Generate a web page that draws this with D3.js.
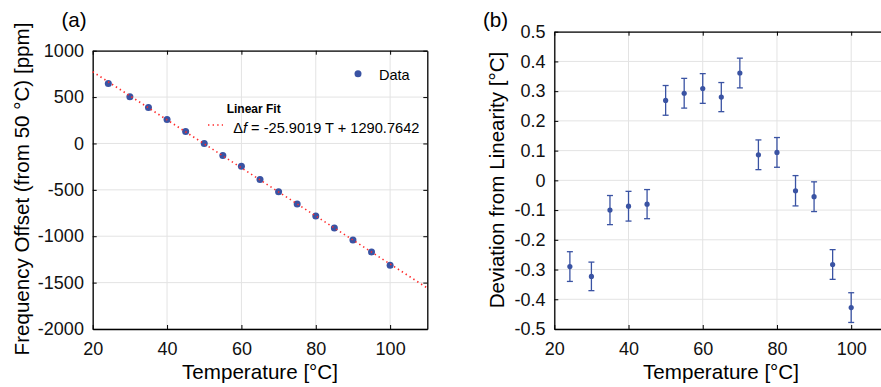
<!DOCTYPE html>
<html>
<head>
<meta charset="utf-8">
<script src="https://cdn.jsdelivr.net/npm/d3@7"></script>
<style>
  html, body { margin: 0; padding: 0; background: #fff; }
  svg { display: block; font-family: "Liberation Sans", Arial, Helvetica, sans-serif; }
</style>
</head>
<body>
<svg id="chart" width="881" height="387"></svg>
<script>
// ---- Data ----
const temperatures = [24.2, 30, 35, 40, 45, 50, 55, 60, 65, 70, 75, 80, 85, 90, 95, 100];
const freqOffset = [647, 503, 388, 259, 129, 0, -129, -245, -389, -520, -652, -781, -910, -1040, -1169, -1313];
const deviation = [-0.29, -0.323, -0.10, -0.087, -0.08, 0.269, 0.293, 0.309, 0.28, 0.361, 0.086, 0.094, -0.035, -0.055, -0.283, -0.428];
const deviationErr = [0.05, 0.048, 0.049, 0.05, 0.049, 0.05, 0.05, 0.05, 0.049, 0.05, 0.05, 0.05, 0.051, 0.05, 0.05, 0.05];
const fitSlope = -25.9019;
const fitIntercept = 1290.7642;
const xTicks = [20, 40, 60, 80, 100];
const yTicksA = [1000, 500, 0, -500, -1000, -1500, -2000];
const yTicksB = [0.5, 0.4, 0.3, 0.2, 0.1, 0, -0.1, -0.2, -0.3, -0.4, -0.5];
const labels = {
  a: "(a)", b: "(b)",
  xTitle: "Temperature [°C]",
  yTitleA: "Frequency Offset (from 50 °C) [ppm]",
  yTitleB: "Deviation from Linearity [°C]",
  legendData: "Data",
  legendFit: "Linear Fit"
};

// ---- Styles ----
const BLUE = "#3a53a3";
const RED = "#ff2a2a";
const GRID = "#e3e3e3";
const TICK_FS = 18;
const TITLE_FS = 20.6;

const svg = d3.select("#chart");
const fmt = v => String(v).replace("\u2212", "-");

function panel(opts) {
  const { left, right, top, bottom, xDomain, yDomain, yTicks } = opts;
  const x = d3.scaleLinear().domain(xDomain).range([left, right]);
  const y = d3.scaleLinear().domain(yDomain).range([bottom, top]);
  const g = svg.append("g");
  // grid
  g.append("g").selectAll("line").data(xTicks).join("line")
    .attr("x1", d => x(d)).attr("x2", d => x(d)).attr("y1", top).attr("y2", bottom)
    .attr("stroke", GRID).attr("stroke-width", 1);
  g.append("g").selectAll("line").data(yTicks).join("line")
    .attr("x1", left).attr("x2", right).attr("y1", d => y(d)).attr("y2", d => y(d))
    .attr("stroke", GRID).attr("stroke-width", 1);
  // axes (inward ticks)
  const axB = g.append("g").attr("transform", `translate(0,${bottom})`)
    .call(d3.axisBottom(x).tickValues(xTicks).tickSizeInner(-4).tickSizeOuter(0).tickPadding(13).tickFormat(fmt));
  const axT = g.append("g").attr("transform", `translate(0,${top})`)
    .call(d3.axisTop(x).tickValues(xTicks).tickSizeInner(-4).tickSizeOuter(0).tickFormat(""));
  const axL = g.append("g").attr("transform", `translate(${left},0)`)
    .call(d3.axisLeft(y).tickValues(yTicks).tickSizeInner(-4).tickSizeOuter(0).tickPadding(8.8).tickFormat(fmt));
  const axR = g.append("g").attr("transform", `translate(${right},0)`)
    .call(d3.axisRight(y).tickValues(yTicks).tickSizeInner(-4).tickSizeOuter(0).tickFormat(""));
  [axB, axT, axL, axR].forEach(a => {
    a.select(".domain").attr("stroke", "#000").attr("stroke-width", 1.3);
    a.selectAll(".tick line").attr("stroke", "#000").attr("stroke-width", 1);
    a.selectAll(".tick text").attr("font-size", TICK_FS).attr("fill", "#111")
      .attr("font-family", "'Liberation Sans', Arial, sans-serif");
  });
  axB.selectAll(".tick text").attr("dy", "0.71em");
  return { x, y, g };
}

// ---- Panel (a) ----
const A = panel({ left: 92.7, right: 427.3, top: 50.7, bottom: 329,
  xDomain: [20, 110], yDomain: [-2000, 1000], yTicks: yTicksA });

A.g.append("g").selectAll("circle").data(temperatures).join("circle")
  .attr("cx", d => A.x(d)).attr("cy", (d, i) => A.y(freqOffset[i]))
  .attr("r", 3.5).attr("fill", BLUE);

const fitX = A.x.domain();
A.g.append("line")
  .attr("x1", A.x(fitX[0])).attr("y1", A.y(fitSlope * fitX[0] + fitIntercept))
  .attr("x2", A.x(fitX[1])).attr("y2", A.y(fitSlope * fitX[1] + fitIntercept))
  .attr("stroke", RED).attr("stroke-width", 1.6).attr("stroke-dasharray", "1.4,3.2");

// legend (a)
A.g.append("circle").attr("cx", 358).attr("cy", 73.7).attr("r", 3.5).attr("fill", BLUE);
A.g.append("text").attr("x", 379).attr("y", 79.5).attr("font-size", 14.5).text(labels.legendData);
A.g.append("text").attr("x", 226.7).attr("y", 113.3).attr("font-size", 12)
  .attr("font-weight", "bold").text(labels.legendFit);
A.g.append("line").attr("x1", 208).attr("x2", 223).attr("y1", 125).attr("y2", 125)
  .attr("stroke", RED).attr("stroke-width", 1.6).attr("stroke-dasharray", "1.4,3.2");
const eq = A.g.append("text").attr("x", 233.3).attr("y", 132.5).attr("font-size", 14.6);
eq.append("tspan").text("\u0394");
eq.append("tspan").attr("font-style", "italic").text("f");
eq.append("tspan").attr("dx", 4).text(`= ${fitSlope} T + ${fitIntercept.toFixed(4)}`);

// titles (a)
svg.append("text").attr("x", 74).attr("y", 27).attr("text-anchor", "middle")
  .attr("font-size", TITLE_FS).text(labels.a);
svg.append("text").attr("x", 260).attr("y", 378.5).attr("text-anchor", "middle")
  .attr("font-size", TITLE_FS).text(labels.xTitle);
svg.append("text").attr("transform", "translate(29,189) rotate(-90)")
  .attr("text-anchor", "middle").attr("font-size", TITLE_FS).text(labels.yTitleA);

// ---- Panel (b) ----
const B = panel({ left: 554.3, right: 888.3, top: 31.7, bottom: 329,
  xDomain: [20, 110], yDomain: [-0.5, 0.5], yTicks: yTicksB });

const eb = B.g.append("g").attr("stroke", BLUE).attr("stroke-width", 1.3);
temperatures.forEach((t, i) => {
  const cx = B.x(t), y1 = B.y(deviation[i] + deviationErr[i]), y2 = B.y(deviation[i] - deviationErr[i]);
  eb.append("line").attr("x1", cx).attr("x2", cx).attr("y1", y1).attr("y2", y2);
  eb.append("line").attr("x1", cx - 3).attr("x2", cx + 3).attr("y1", y1).attr("y2", y1);
  eb.append("line").attr("x1", cx - 3).attr("x2", cx + 3).attr("y1", y2).attr("y2", y2);
});
B.g.append("g").selectAll("circle").data(temperatures).join("circle")
  .attr("cx", d => B.x(d)).attr("cy", (d, i) => B.y(deviation[i]))
  .attr("r", 2.6).attr("fill", BLUE);

svg.append("text").attr("x", 495.5).attr("y", 27).attr("text-anchor", "middle")
  .attr("font-size", TITLE_FS).text(labels.b);
svg.append("text").attr("x", 721).attr("y", 378.5).attr("text-anchor", "middle")
  .attr("font-size", TITLE_FS).text(labels.xTitle);
svg.append("text").attr("transform", "translate(504,180) rotate(-90)")
  .attr("text-anchor", "middle").attr("font-size", TITLE_FS).text(labels.yTitleB);
</script>
</body>
</html>
